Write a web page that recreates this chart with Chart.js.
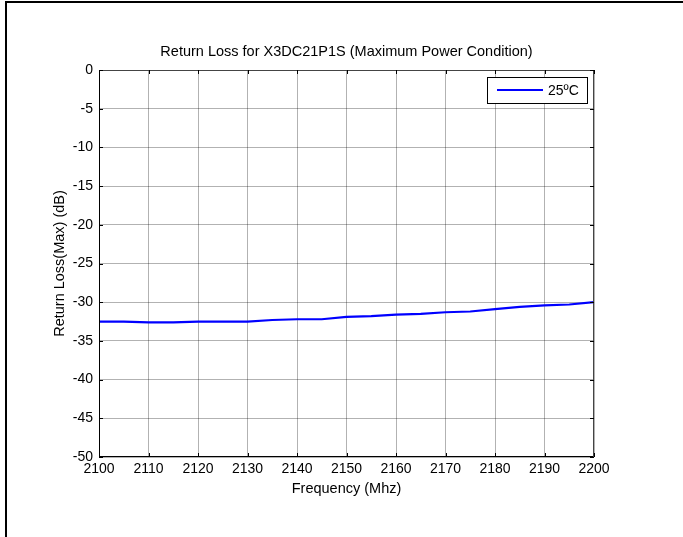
<!DOCTYPE html>
<html>
<head>
<meta charset="utf-8">
<script src="https://cdn.jsdelivr.net/npm/chart.js@4/dist/chart.umd.min.js"></script>
<style>
html,body{margin:0;padding:0;background:#fff;}
#wrap{position:relative;width:683px;height:537px;}
</style>
</head>
<body>
<div id="wrap"><canvas id="c" width="683" height="537"></canvas></div>
<script>
const frequencies = [2100,2105,2110,2115,2120,2125,2130,2135,2140,2145,2150,2155,2160,2165,2170,2175,2180,2185,2190,2195,2200];
const returnLoss25C = [-32.5,-32.5,-32.6,-32.6,-32.5,-32.5,-32.5,-32.3,-32.2,-32.2,-31.9,-31.8,-31.6,-31.5,-31.3,-31.2,-30.9,-30.6,-30.4,-30.3,-30.0];
const seriesLabel = '25ºC';
const chartTitle = 'Return Loss for X3DC21P1S (Maximum Power Condition)';
const xAxisTitle = 'Frequency (Mhz)';
const yAxisTitle = 'Return Loss(Max) (dB)';

const FONT = '"Liberation Sans", Arial, sans-serif';

const framePlugin = {
  id: 'frame',
  beforeDraw(chart) {
    const ctx = chart.ctx;
    ctx.save();
    ctx.fillStyle = '#fff';
    ctx.fillRect(0, 0, chart.width, chart.height);
    ctx.fillStyle = '#000';
    ctx.fillRect(5, 1, chart.width - 5, 2);
    ctx.fillRect(5, 1, 2, chart.height - 1);
    ctx.restore();
  },
  afterDatasetsDraw(chart) {
    const ctx = chart.ctx;
    const a = chart.chartArea;
    const xs = chart.scales.x, ys = chart.scales.y;
    ctx.save();
    // title
    ctx.fillStyle = '#000';
    ctx.font = '14.5px ' + FONT;
    ctx.textAlign = 'center';
    ctx.textBaseline = 'middle';
    ctx.fillText(chartTitle, (a.left + a.right) / 2, 52);
    // axes box
    ctx.strokeStyle = '#000';
    ctx.lineWidth = 1;
    ctx.beginPath();
    ctx.moveTo(a.left + 0.5, a.top); ctx.lineTo(a.left + 0.5, a.bottom);
    ctx.moveTo(a.left, a.bottom - 0.5); ctx.lineTo(a.right, a.bottom - 0.5);
    ctx.stroke();
    ctx.strokeStyle = '#444';
    ctx.beginPath();
    ctx.moveTo(a.left, a.top + 0.5); ctx.lineTo(a.right, a.top + 0.5);
    ctx.moveTo(a.right - 0.5, a.top); ctx.lineTo(a.right - 0.5, a.bottom);
    ctx.stroke();
    // inward ticks
    ctx.strokeStyle = '#000';
    ctx.beginPath();
    xs.ticks.forEach(t => {
      const px = Math.round(xs.getPixelForValue(t.value)) + 0.5;
      ctx.moveTo(px, a.bottom); ctx.lineTo(px, a.bottom - 4);
      ctx.moveTo(px, a.top); ctx.lineTo(px, a.top + 4);
    });
    ys.ticks.forEach(t => {
      const py = Math.round(ys.getPixelForValue(t.value)) + 0.5;
      ctx.moveTo(a.left, py); ctx.lineTo(a.left + 4, py);
      ctx.moveTo(a.right, py); ctx.lineTo(a.right - 4, py);
    });
    ctx.stroke();
    // legend box
    const ds = chart.data.datasets[0];
    const bx = 487, by = 77, bw = 100, bh = 26;
    ctx.fillStyle = '#fff';
    ctx.fillRect(bx, by, bw, bh);
    ctx.strokeStyle = '#000';
    ctx.lineWidth = 1;
    ctx.strokeRect(bx + 0.5, by + 0.5, bw, bh);
    ctx.strokeStyle = ds.borderColor;
    ctx.lineWidth = 2;
    ctx.beginPath();
    ctx.moveTo(bx + 10, by + 13); ctx.lineTo(bx + 56, by + 13);
    ctx.stroke();
    ctx.fillStyle = '#000';
    ctx.font = '14px ' + FONT;
    ctx.textBaseline = 'middle';
    ctx.textAlign = 'left';
    ctx.fillText(ds.label, bx + 61, by + 14);
    ctx.restore();
  }
};

new Chart(document.getElementById('c'), {
  type: 'line',
  data: {
    datasets: [{
      label: seriesLabel,
      data: frequencies.map((f, i) => ({x: f, y: returnLoss25C[i]})),
      borderColor: '#0000ff',
      borderWidth: 2.2,
      pointRadius: 0,
      tension: 0,
      fill: false
    }]
  },
  options: {
    responsive: false,
    animation: false,
    devicePixelRatio: 1,
    layout: {padding: {left: 0, right: 89, top: 70, bottom: 0}},
    plugins: {
      legend: {display: false},
      tooltip: {enabled: false},
      title: {display: false}
    },
    scales: {
      x: {
        type: 'linear',
        min: 2100, max: 2200,
        afterFit(s) { s.height = 80; },
        ticks: {stepSize: 10, color: '#000', font: {family: FONT, size: 14}, padding: 4, maxRotation: 0,
                callback: v => String(v)},
        grid: {color: 'rgba(0,0,0,0.3)', lineWidth: 1, drawTicks: false},
        border: {display: false},
        title: {display: true, text: xAxisTitle, color: '#000', font: {family: FONT, size: 14.5}, padding: {top: 0, bottom: 39}}
      },
      y: {
        type: 'linear',
        min: -50, max: 0,
        afterFit(s) { s.width = 99; },
        ticks: {stepSize: 5, color: '#000', font: {family: FONT, size: 14}, padding: 6},
        grid: {color: 'rgba(0,0,0,0.3)', lineWidth: 1, drawTicks: false},
        border: {display: false},
        title: {display: true, text: yAxisTitle, color: '#000', font: {family: FONT, size: 14.5}, padding: {top: 51, bottom: 0}}
      }
    }
  },
  plugins: [framePlugin]
});
</script>
</body>
</html>
